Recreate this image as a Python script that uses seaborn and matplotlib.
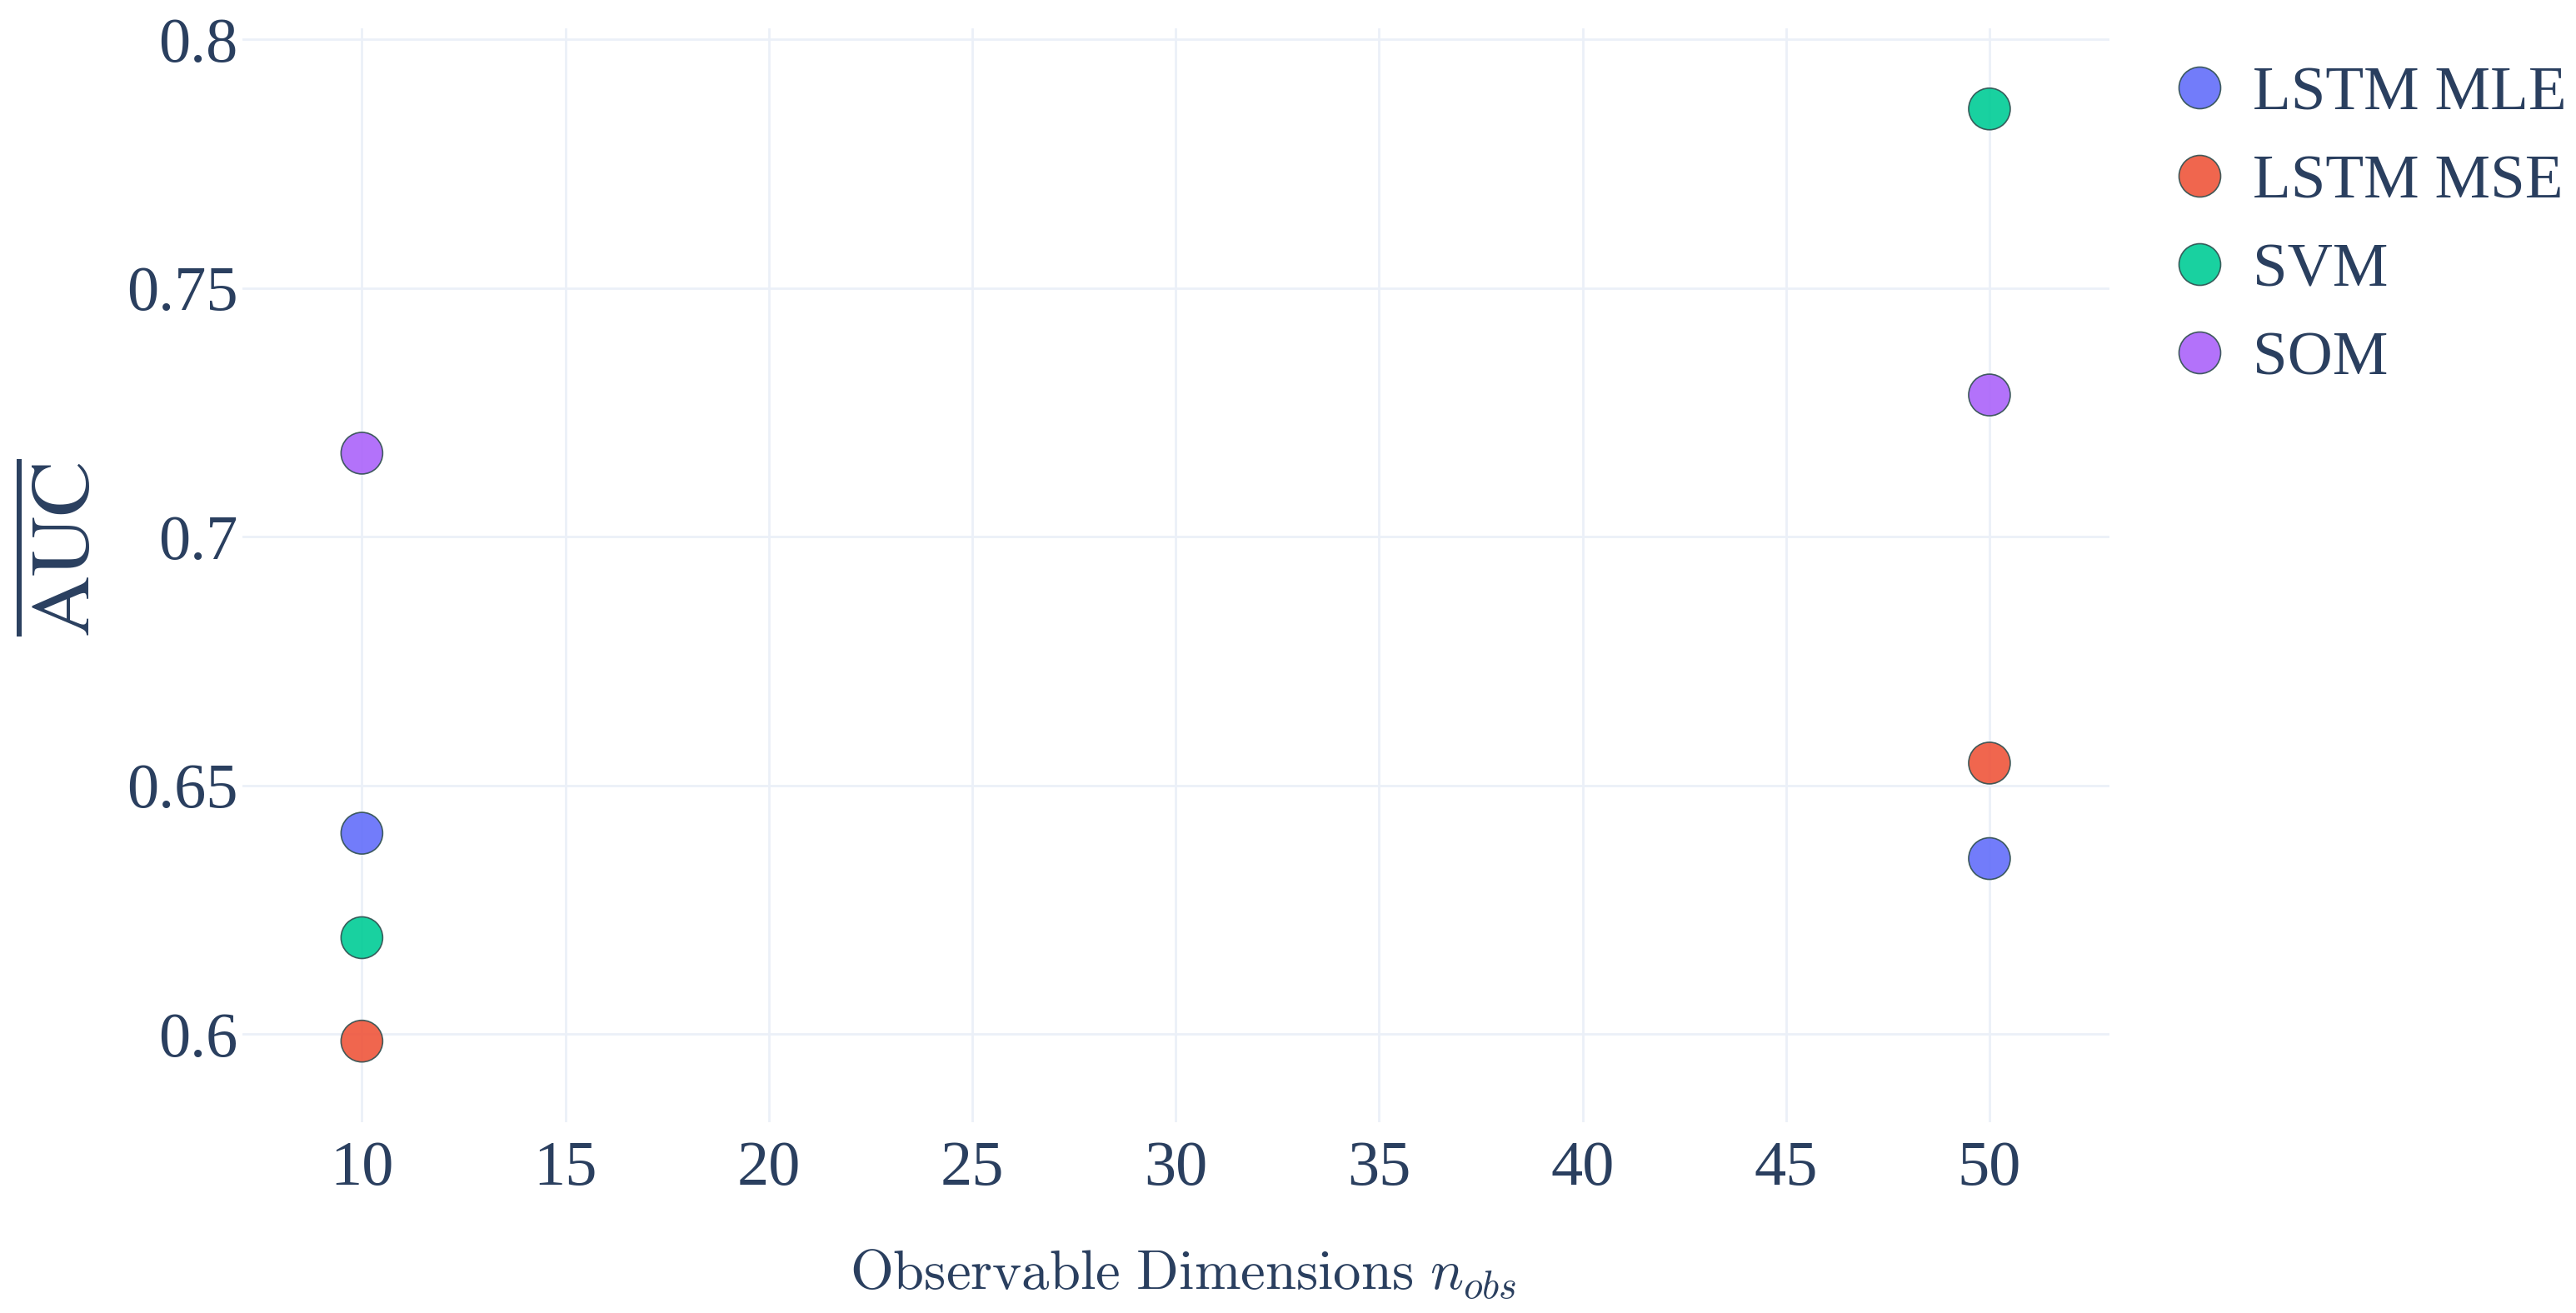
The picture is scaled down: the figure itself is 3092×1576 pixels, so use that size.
import numpy as np
import pandas as pd
import matplotlib
matplotlib.use("Agg")
import matplotlib.pyplot as plt
import seaborn as sns

# values
models = ["LSTM MLE", "LSTM MSE", "SVM", "SOM"]
n_obs = [10, 50]
auc_mle = [0.6404, 0.6353]
auc_mse = [0.5986, 0.6545]
auc_svm = [0.6194, 0.7860]
auc_som = [0.7168, 0.7285]
colors = ["#636EFA", "#EF553B", "#00CC96", "#AB63FA"]
x_ticks = [10, 15, 20, 25, 30, 35, 40, 45, 50]
y_ticks = [0.6, 0.65, 0.7, 0.75, 0.8]
y_tick_labels = ["0.6", "0.65", "0.7", "0.75", "0.8"]

sns.set_theme(style="white")
plt.rcParams["font.family"] = ["Liberation Serif", "STIXGeneral", "DejaVu Serif"]

txt = "#2a3f5f"
grid = "#EBF0F8"

df = pd.DataFrame({
    "n_obs": n_obs * 4,
    "auc": auc_mle + auc_mse + auc_svm + auc_som,
    "model": [m for m in models for _ in n_obs],
})

fig = plt.figure(figsize=(30.92, 15.76), dpi=100)
ax = fig.add_axes([0.0941, 0.1453, 0.7248, 0.8331])

sns.scatterplot(
    data=df,
    x="n_obs",
    y="auc",
    hue="model",
    hue_order=models,
    palette=colors,
    s=1296,
    alpha=0.9,
    edgecolor="#2F4F4F",
    linewidth=1.2,
    zorder=3,
    ax=ax,
)

ax.set_xlim(7.064, 52.95)
ax.set_ylim(0.5823, 0.8022)
ax.set_xticks(x_ticks)
ax.set_yticks(y_ticks)
ax.set_yticklabels(y_tick_labels)
ax.grid(True, color=grid, linewidth=2, zorder=0)
ax.set_axisbelow(True)
for s in ax.spines.values():
    s.set_visible(False)
ax.tick_params(axis="both", length=0, labelsize=55, labelcolor=txt)
ax.tick_params(axis="y", pad=4)
ax.tick_params(axis="x", pad=16)

ax.set_xlabel(r"$\mathrm{Observable\ Dimensions}\ n_{obs}$", fontsize=48,
              color=txt, math_fontfamily="cm")
ax.xaxis.label.set_va("center")
ax.xaxis.set_label_coords(0.5038, -0.139)

ax.set_ylabel(r"$\overline{\mathrm{AUC}}$", fontsize=72, color=txt,
              math_fontfamily="stix")
ax.yaxis.label.set_va("center")
ax.yaxis.set_label_coords(-0.094, 0.525)

handles, labels = ax.get_legend_handles_labels()
for h in handles:
    h.set_markersize(36)
    h.set_markeredgecolor("#2F4F4F")
    h.set_markeredgewidth(1.2)
    h.set_alpha(0.9)
ax.legend(
    handles, labels,
    loc="upper left",
    bbox_to_anchor=(0.8417, 0.95),
    bbox_transform=fig.transFigure,
    frameon=False,
    fontsize=54,
    labelcolor=txt,
    handlelength=1.0,
    handletextpad=0.35,
    labelspacing=0.5,
    borderpad=0,
    borderaxespad=0,
)

fig.savefig("out.png", dpi=100, facecolor="white")
